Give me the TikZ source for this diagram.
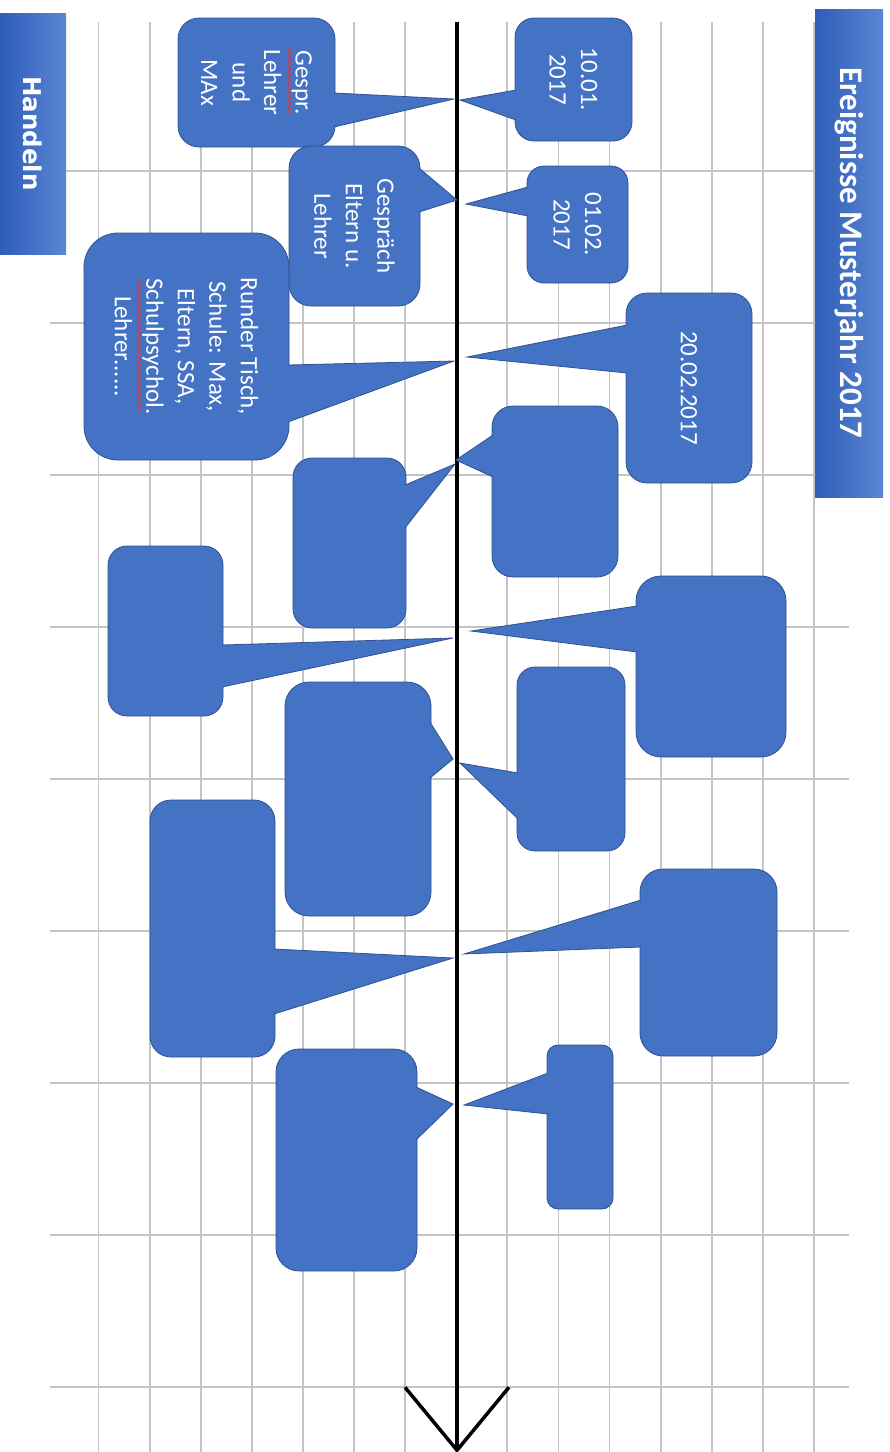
\documentclass[tikz,border=0pt]{standalone}
\usepackage{fontspec}
\setmainfont{Carlito}
\newfontfamily\headfont{DejaVu Sans}
\usepackage{graphicx}
\usepackage{xcolor}
\definecolor{cFill}{HTML}{4472C4}
\definecolor{cLine}{HTML}{2F528F}
\definecolor{cGrid}{HTML}{C4C4C4}
\definecolor{cHeadL}{HTML}{2E5DBA}
\definecolor{cHeadR}{HTML}{5B86D1}
\definecolor{cSpell}{HTML}{E0383C}
\usepackage{tikz}
\usetikzlibrary{arrows.meta,decorations.pathmorphing}
\tikzset{
  node-bubble/.style={draw=cLine,line width=0.8pt,fill=cFill,text=white,
    inner sep=0pt,align=center,rotate=-90,font=\fontsize{25}{31.5}\selectfont},
  node-head/.style={left color=cHeadL,right color=cHeadR,text=white,inner sep=0pt},
  tail/.style={draw=cLine,line width=0.8pt,fill=cFill},
  gridline/.style={draw=cGrid,line width=1.8pt},
  timeline/.style={draw=black,line width=3.5pt,-{Straight Barb[length=63pt,width=104pt]}},
  % rote Wellenlinie der Rechtschreibpruefung
  spellwave/.style={draw=cSpell,line width=1pt,
    decorate,decoration={snake,segment length=5pt,amplitude=1.5pt}},
}

\begin{document}
\begin{tikzpicture}[x=1pt,y=-1pt]
  \useasboundingbox (0,0) rectangle (890,1452);
  % Raster
  \foreach \i in {0,...,14} {
    \draw[gridline] ({98.5+51.1*\i},22) -- ({98.5+51.1*\i},1452);
  }
  \foreach \j in {0,...,8} {
    \draw[gridline] (50,{171+152*\j}) -- (849,{171+152*\j});
  }
  % Zeitstrahl
  \coordinate (start) at (457,22);
  \coordinate (end)   at (457,1453);
  \draw[timeline] (start) -- (end);
  % Spitzen auf dem Zeitstrahl
  \coordinate (tl1) at (454,99);   \coordinate (tr1) at (460,100);
  \coordinate (tl2) at (457,200);  \coordinate (tr2) at (466,204);
  \coordinate (tl3) at (454,361);  \coordinate (tr3) at (467,357);
  \coordinate (tl4) at (455,464);  \coordinate (tr4) at (456,460);
  \coordinate (tl5) at (453,638);  \coordinate (tr5) at (471,631);
  \coordinate (tl6) at (453,759);  \coordinate (tr6) at (460,763);
  \coordinate (tl7) at (453,958);  \coordinate (tr7) at (464,954);
  \coordinate (tl8) at (453,1104); \coordinate (tr8) at (464,1105);
  % Sprechblasen
  \node[node-bubble,minimum width=129pt,minimum height=157pt,rounded corners=21pt] (l1) at (256.5,82.5) {Gespr.\\Lehrer\\und\\MAx};
  \draw[tail] (334,93) -- (tl1) -- (334,127);
  \node[node-bubble,minimum width=123pt,minimum height=117pt,rounded corners=19pt] (r1) at (573.5,79.5) {10.01.\\2017};
  \draw[tail] (516,90) -- (tr1) -- (516,120);
  \node[node-bubble,minimum width=160pt,minimum height=131pt,rounded corners=22pt] (l2) at (354.5,226) {Gespräch\\Eltern u.\\Lehrer};
  \draw[tail] (419,168) -- (tl2) -- (419,212);
  \node[node-bubble,minimum width=117pt,minimum height=101pt,rounded corners=17pt] (r2) at (577.5,224.5) {01.02.\\2017};
  \draw[tail] (528,187) -- (tr2) -- (528,216);
  \node[node-bubble,minimum width=227pt,minimum height=205pt,rounded corners=34pt] (l3) at (186.5,346.5) {Runder Tisch,\\Schule: Max,\\Eltern, SSA,\\Schulpsychol.\\Lehrer......};
  \draw[tail] (288,365) -- (tl3) -- (288,422);
  \node[node-bubble,minimum width=190pt,minimum height=126pt,rounded corners=21pt] (r3) at (689,388) {20.02.2017};
  \draw[tail] (627,325) -- (tr3) -- (627,373);
  \node[node-bubble,minimum width=171pt,minimum height=126pt,rounded corners=21pt] (r4) at (555,491.5) {};
  \draw[tail] (493,435) -- (tr4) -- (493,477);
  \node[node-bubble,minimum width=170pt,minimum height=113pt,rounded corners=19pt] (l4) at (349.5,543) {};
  \draw[tail] (405,485) -- (tl4) -- (405,528);
  \node[node-bubble,minimum width=170pt,minimum height=115pt,rounded corners=19pt] (l5) at (165.5,631) {};
  \draw[tail] (222,645) -- (tl5) -- (222,687);
  \node[node-bubble,minimum width=181pt,minimum height=150pt,rounded corners=25pt] (r5) at (711,666.5) {};
  \draw[tail] (637,606) -- (tr5) -- (637,652);
  \node[node-bubble,minimum width=234pt,minimum height=146pt,rounded corners=24pt] (l6) at (358,799) {};
  \draw[tail] (430,722) -- (tl6) -- (430,778);
  \node[node-bubble,minimum width=184pt,minimum height=108pt,rounded corners=18pt] (r6) at (571,759) {};
  \draw[tail] (518,773) -- (tr6) -- (518,819);
  \node[node-bubble,minimum width=257pt,minimum height=125pt,rounded corners=21pt] (l7) at (212.5,928.5) {};
  \draw[tail] (274,949) -- (tl7) -- (274,1014);
  \node[node-bubble,minimum width=187pt,minimum height=137pt,rounded corners=23pt] (r7) at (708.5,962.5) {};
  \draw[tail] (641,900) -- (tr7) -- (641,947);
  \node[node-bubble,minimum width=222pt,minimum height=141pt,rounded corners=23pt] (l8) at (346.5,1160) {};
  \draw[tail] (416,1087) -- (tl8) -- (416,1140);
  \node[node-bubble,minimum width=164pt,minimum height=66pt,rounded corners=11pt] (r8) at (580,1127) {};
  \draw[tail] (548,1073) -- (tr8) -- (548,1114);
  % Wellenlinien unter Gespr. und Schulpsychol.
  \coordinate (w1a) at (289,47);  \coordinate (w1b) at (289,114);
  \coordinate (w3a) at (139,278); \coordinate (w3b) at (139,413);
  \draw[spellwave] (w1a) -- (w1b);
  \draw[spellwave] (w3a) -- (w3b);
  % Kopfleisten
  \node[node-head,minimum width=68pt,minimum height=488pt] (title) at (849,253)
    {\rotatebox{-90}{\fontsize{33}{40}\selectfont\bfseries Ereignisse Musterjahr 2017}};
  \node[node-head,minimum width=66pt,minimum height=241pt] (act) at (33,133.5)
    {\rotatebox{-90}{\headfont\fontsize{24.5}{30}\selectfont\bfseries Handeln}};
\end{tikzpicture}
\end{document}
